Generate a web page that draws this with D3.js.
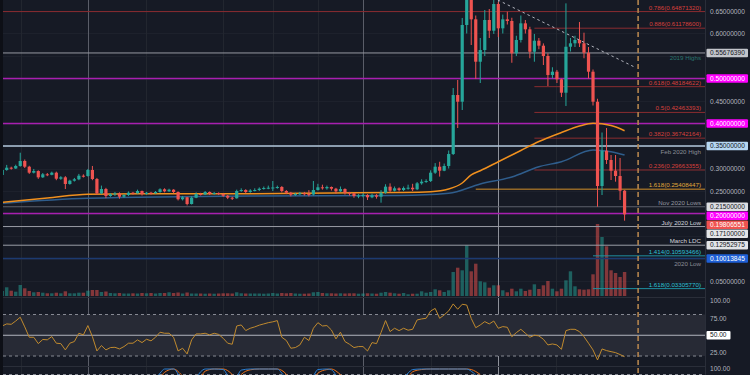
<!DOCTYPE html>
<html><head><meta charset="utf-8">
<script src="https://cdn.jsdelivr.net/npm/d3@7"></script>
<style>html,body{margin:0;padding:0;background:#161a25;overflow:hidden}svg{display:block}</style>
</head><body><svg id="c" width="750" height="375"></svg>
<script>
// ---------------- DATA ----------------
const open0 = 0.2856;
const closes = [
0.2967,0.3018,0.3000,0.3056,0.3167,0.3040,0.2907,0.2944,0.2804,0.2871,
0.2860,0.2907,0.2773,0.2804,0.2656,0.2729,0.2760,0.2840,0.2833,0.2967,
0.2767,0.2449,0.2544,0.2389,0.2427,0.2449,0.2373,0.2411,0.2462,0.2449,
0.2500,0.2433,0.2462,0.2449,0.2478,0.2538,0.2493,0.2529,0.2478,0.2316,
0.2360,0.2211,0.2351,0.2433,0.2422,0.2478,0.2433,0.2456,0.2433,0.2395,
0.2351,0.2338,0.2500,0.2522,0.2478,0.2511,0.2522,0.2551,0.2567,0.2573,
0.2578,0.2589,0.2500,0.2462,0.2418,0.2433,0.2449,0.2433,0.2422,0.2522,
0.2582,0.2560,0.2589,0.2551,0.2493,0.2544,0.2462,0.2449,0.2389,0.2400,
0.2411,0.2360,0.2404,0.2373,0.2462,0.2596,0.2507,0.2560,0.2522,0.2567,
0.2573,0.2538,0.2671,0.2707,0.2722,0.2907,0.3040,0.2951,0.3056,0.3322,
0.4633,0.4484,0.6189,0.6922,0.6315,0.5373,0.5633,0.6300,0.6062,0.6655,
0.6115,0.6315,0.6278,0.5560,0.5856,0.6226,0.6093,0.5595,0.5840,0.5729,
0.5500,0.5078,0.5151,0.4982,0.4684,0.5706,0.5782,0.5856,0.5782,0.5573,
0.5151,0.4484,0.2611,0.3395,0.3189,0.2951,0.2833,0.2507,0.19806551];
const highs = [
0.2990,0.3080,0.3040,0.3085,0.3351,0.3200,0.3060,0.2990,0.2960,0.2900,
0.2900,0.2930,0.2930,0.2830,0.2830,0.2750,0.2790,0.2880,0.2870,0.2990,
0.3056,0.2790,0.2620,0.2570,0.2450,0.2480,0.2470,0.2430,0.2490,0.2480,
0.2530,0.2510,0.2480,0.2480,0.2500,0.2560,0.2560,0.2550,0.2540,0.2490,
0.2390,0.2370,0.2380,0.2470,0.2460,0.2500,0.2490,0.2480,0.2470,0.2450,
0.2410,0.2370,0.2530,0.2560,0.2540,0.2540,0.2560,0.2580,0.2600,0.2620,
0.2722,0.2620,0.2610,0.2520,0.2480,0.2460,0.2480,0.2480,0.2520,0.2722,
0.2660,0.2640,0.2620,0.2600,0.2570,0.2600,0.2560,0.2480,0.2460,0.2430,
0.2450,0.2430,0.2440,0.2430,0.2520,0.2650,0.2670,0.2600,0.2580,0.2600,
0.2640,0.2660,0.2700,0.2760,0.2760,0.2960,0.3120,0.3150,0.3110,0.3400,
0.4788,0.4967,0.6345,0.7800,0.7000,0.6400,0.5900,0.6522,0.6544,0.6790,
0.6700,0.6420,0.6484,0.6350,0.5950,0.6400,0.6300,0.6150,0.5990,0.5900,
0.5780,0.5560,0.5250,0.5190,0.5000,0.6670,0.5900,0.5950,0.6256,0.6018,
0.5700,0.5200,0.4550,0.3800,0.3900,0.3300,0.3300,0.3233,0.2520];
const lows = [
0.2830,0.2950,0.2975,0.2990,0.3040,0.3010,0.2880,0.2890,0.2770,0.2790,
0.2830,0.2850,0.2740,0.2750,0.2544,0.2640,0.2710,0.2740,0.2800,0.2820,
0.2740,0.2420,0.2430,0.2340,0.2370,0.2390,0.2330,0.2350,0.2390,0.2420,
0.2440,0.2400,0.2420,0.2420,0.2440,0.2460,0.2470,0.2480,0.2450,0.2290,
0.2290,0.2180,0.2200,0.2340,0.2400,0.2410,0.2410,0.2420,0.2410,0.2370,
0.2320,0.2300,0.2330,0.2480,0.2450,0.2460,0.2490,0.2500,0.2530,0.2540,
0.2500,0.2550,0.2470,0.2430,0.2380,0.2390,0.2410,0.2400,0.2380,0.2400,
0.2510,0.2530,0.2530,0.2510,0.2440,0.2480,0.2420,0.2400,0.2350,0.2340,
0.2360,0.2300,0.2340,0.2330,0.2240,0.2440,0.2470,0.2490,0.2490,0.2500,
0.2530,0.2500,0.2520,0.2640,0.2680,0.2700,0.2880,0.2820,0.2940,0.3000,
0.3300,0.3900,0.4300,0.6000,0.5744,0.4989,0.4900,0.5500,0.5900,0.5990,
0.5922,0.6000,0.6200,0.5350,0.5500,0.5800,0.6000,0.5450,0.5373,0.5650,
0.5300,0.4833,0.5000,0.4900,0.4589,0.4389,0.5600,0.5700,0.5700,0.5450,
0.5000,0.4400,0.2151,0.2411,0.3100,0.2744,0.2707,0.2300,0.1840];
const volumes = [
50,87,53,43,110,77,50,37,40,33, 27,27,33,27,47,27,27,33,33,53,
60,60,40,45,30,27,30,25,25,27, 25,30,27,30,25,30,30,37,30,35,
25,35,25,25,25,23,25,23,25,27, 27,25,37,27,25,25,25,25,23,25,
30,25,30,27,30,25,23,23,25,37, 40,30,27,27,25,27,25,27,27,23,
25,27,25,23,33,40,33,27,23,30, 17,23,23,47,33,40,67,57,40,57,
240,283,257,507,247,323,147,137,83,107, 107,57,37,73,47,73,50,63,117,70,
107,150,73,47,73,157,247,97,67,63, 67,217,720,590,497,257,230,190,240];
const rsi = [
63.4,66.4,65.8,70.6,76.1,62.1,47.1,47.1,37.9,43.9,
43.4,48.1,38.5,37.9,28.8,38.5,40.9,52.9,50.5,64.0,
48.1,27.3,35.1,28.8,32.2,32.6,30.2,33.6,38.5,38.5,
43.3,39.4,44.2,41.9,47.1,54.4,52.9,52.9,47.1,27.3,
31.2,23.0,43.3,51.9,51.9,52.9,50.5,52.9,51.2,45.6,
38.5,37.0,63.4,64.9,56.8,60.1,62.1,64.6,66.4,68.2,
69.4,71.2,47.1,42.4,31.2,32.2,36.0,47.1,42.4,60.1,
68.2,63.4,64.0,57.6,44.7,54.4,40.9,37.0,32.2,33.6,
33.6,27.3,39.4,37.9,53.9,71.2,55.3,60.1,56.7,60.1,
57.3,58.6,72.1,73.6,74.5,85.1,88.8,74.5,79.4,85.2,
95.3,87.6,94.8,93.7,74.3,60.9,64.9,69.7,66.4,70.6,
60.1,62.5,61.5,47.9,53.8,58.6,52.9,47.1,50.0,49.0,
44.2,36.0,37.4,36.0,29.7,56.7,58.6,58.6,55.2,47.9,
38.5,28.8,14.3,30.2,27.8,26.3,24.9,22.1,19.0];
// moving averages, read at points along the curves
const maFastIdx = [0,10,19,33,55,73,88,95,99,102,104,106,110,115,119,124,128,131,135,138];
const maFastVal = [0.2249,0.2344,0.2427,0.2440,0.2440,0.2456,0.2467,0.2484,0.2544,0.2678,0.2856,0.2951,0.3150,0.3400,0.3600,0.3800,0.3944,0.4004,0.3955,0.3840];
const maSlowIdx = [0,19,55,88,99,106,113,119,124,131,135,138];
const maSlowVal = [0.2226,0.2337,0.2389,0.2400,0.2449,0.2656,0.2811,0.3040,0.3151,0.3411,0.3373,0.3300];
// stochastic (bottom pane, mostly cut off)
const stochIdx = [30,33,35,36,38,40,42,44,45,47,49,51,52,53,55,57,59,61,62,64,67,69,70,72,73,75,78,85,88,90,91,93,95,97,99,101,103,104,106];
const stochK = [20,45,85,100,100,55,40,90,100,100,98,50,70,96,100,100,100,100,85,40,30,75,98,100,97,50,20,30,55,85,98,100,100,100,100,100,100,92,60];
const stochD = [30,35,65,88,100,75,45,70,92,100,100,80,60,80,97,100,100,100,95,65,35,55,85,98,100,80,35,25,45,70,90,98,100,100,100,100,100,98,80];
// horizontal levels
const levelPrices = [0.64871320,0.61178600,0.55676390,0.5,0.48184622,0.42463393,0.4,0.36742164,0.35,0.29663355,0.25408447,0.215,0.2,0.171,0.12952975,0.10593466,0.10013845,0.03305770];
const levelTexts = ["0.786(0.64871320)","0.886(0.61178600)","2019 Highs","","0.618(0.48184622)","0.5(0.42463393)","","0.382(0.36742164)","Feb 2020 High","0.236(0.29663355)","1.618(0.25408447)","Nov 2020 Lows","","July 2020 Low","March LDC","1.414(0.10593466)","2020 Low","1.618(0.03305770)"];
const levelStart = [0,118,0,0,118,118,0,118,0,118,105,0,0,0,0,131,0,131];
const levelKinds = ["fib","fib","gray","magenta","fib","fib","magenta","fib","lightblue","fib","orange","gray2","magenta","light","light","cyan","blue","cyan"];
const lastPrice = 0.19806551;
const priceTicks = [0.65,0.60,0.45,0.30,0.25,0.05];
const rsiTicks = [100,75,25];
const trendIdx = [109.9,140.5];
const trendVal = [0.6744,0.5240];
const gridIdx = [4.2,31.9,49,60,70,95,122.8];
const markIdx = [19,80,110];
const nowIdx = 141;

// ---------------- STYLES ----------------
const kindStyle = {
  fib:{line:"#8a2c30",w:1,text:"#d8403c",pos:"above",box:null},
  gray:{line:"#9598a1",w:1,text:"#2a766f",pos:"below",box:["#c3c5cb","#131722"]},
  magenta:{line:"#a81fb0",w:1.6,text:"#fff",pos:"above",box:["#ff00ff","#ffffff"]},
  lightblue:{line:"#b3c8dd",w:1.6,text:"#8a8d96",pos:"below",box:["#b6d6f2","#131722"]},
  orange:{line:"#d4902a",w:1,text:"#e0a93a",pos:"above",box:null},
  gray2:{line:"#5d606b",w:1,text:"#9598a1",pos:"above",box:["#dcdde2","#131722"]},
  light:{line:"#9a9da6",w:1,text:"#d1d4dc",pos:"above",box:["#e3e4e8","#131722"]},
  cyan:{line:"#1f8fa0",w:1,text:"#2cc0d6",pos:"above",box:null},
  blue:{line:"#1c3a70",w:1.4,text:"#8a8d96",pos:"below",box:["#1e5fd6","#ffffff"]}
};
const UP="#26a69a", DN="#ef5350";
const FONT="'Liberation Sans', Arial, sans-serif";

// ---------------- SCALES ----------------
const svg = d3.select("#c");
const PR = 705;
const x = d3.scaleLinear().domain([0,157]).range([2.2, 2.2+4.51*157]);
const y = d3.scaleLinear().domain([0.05,0.65]).range([281,11]);
const yV = d3.scaleLinear().domain([0,1000]).range([296,196]);
const yR = d3.scaleLinear().domain([20,80]).range([356,314.5]);
const yS = d3.scaleLinear().domain([80,100]).range([374.5,369]);

const data = closes.map((c,i)=>({i,o:i?closes[i-1]:open0,c,h:highs[i],l:lows[i],v:volumes[i],r:rsi[i]}));

svg.append("rect").attr("width",750).attr("height",375).attr("fill","#161a25");
const defs = svg.append("defs");
defs.append("clipPath").attr("id","cm").append("rect").attr("x",3).attr("y",0).attr("width",PR-3).attr("height",297);
defs.append("clipPath").attr("id","cr").append("rect").attr("x",3).attr("y",298).attr("width",PR-3).attr("height",68);
defs.append("clipPath").attr("id","cs").append("rect").attr("x",3).attr("y",367).attr("width",PR-3).attr("height",8);

// grid
const grid = svg.append("g");
grid.selectAll("line.h").data(d3.range(0.05,0.66,0.05)).join("line")
  .attr("x1",3).attr("x2",PR).attr("y1",d=>Math.round(y(d))+0.5).attr("y2",d=>Math.round(y(d))+0.5)
  .attr("stroke","#1d212c");
grid.selectAll("line.v").data(gridIdx).join("line")
  .attr("x1",d=>Math.round(x(d))+0.5).attr("x2",d=>Math.round(x(d))+0.5).attr("y1",0).attr("y2",375)
  .attr("stroke","#22262f");
// RSI pane band
svg.append("rect").attr("x",3).attr("width",PR-3).attr("y",yR(80)).attr("height",yR(20)-yR(80)).attr("fill","#272a35");
// marker verticals
grid.selectAll("line.m").data(markIdx).join("line")
  .attr("x1",d=>Math.round(x(d))+0.5).attr("x2",d=>Math.round(x(d))+0.5).attr("y1",0).attr("y2",375)
  .attr("stroke",(d,i)=>i==2?"#8e919a":"#5a5d68").attr("stroke-width",1);

// volume
const gm = svg.append("g").attr("clip-path","url(#cm)");
gm.selectAll("rect.v").data(data).join("rect")
  .attr("x",d=>x(d.i)-1.7).attr("width",3.4)
  .attr("y",d=>yV(d.v)).attr("height",d=>yV(0)-yV(d.v))
  .attr("fill",d=>d.c>=d.o?UP:DN).attr("opacity",0.5);

// level lines
levelPrices.forEach((p,k)=>{
  const st = kindStyle[levelKinds[k]];
  const yy = y(p);
  gm.append("line").attr("x1",x(levelStart[k])).attr("x2",PR).attr("y1",yy).attr("y2",yy)
    .attr("stroke",st.line).attr("stroke-width",st.w);
});

// moving averages
const lineGen = d3.line().curve(d3.curveMonotoneX);
gm.append("path").attr("d",lineGen(maSlowIdx.map((d,k)=>[x(d),y(maSlowVal[k])])))
  .attr("fill","none").attr("stroke","#2f5d8c").attr("stroke-width",1.5);
gm.append("path").attr("d",lineGen(maFastIdx.map((d,k)=>[x(d),y(maFastVal[k])])))
  .attr("fill","none").attr("stroke","#f0901e").attr("stroke-width",1.5);

// candles
gm.selectAll("line.w").data(data).join("line")
  .attr("x1",d=>x(d.i)).attr("x2",d=>x(d.i)).attr("y1",d=>y(d.h)).attr("y2",d=>y(d.l))
  .attr("stroke",d=>d.c>=d.o?UP:DN).attr("stroke-width",1);
gm.selectAll("rect.b").data(data).join("rect")
  .attr("x",d=>x(d.i)-1.6).attr("width",3.2)
  .attr("y",d=>y(Math.max(d.o,d.c))).attr("height",d=>Math.max(1,Math.abs(y(d.o)-y(d.c))))
  .attr("fill",d=>d.c>=d.o?UP:DN);

// trend line
gm.append("line").attr("x1",x(trendIdx[0])).attr("y1",y(trendVal[0])).attr("x2",x(trendIdx[1])).attr("y2",y(trendVal[1]))
  .attr("stroke","#b2b5be").attr("stroke-width",1).attr("stroke-dasharray","2.5,3");

// level texts
levelPrices.forEach((p,k)=>{
  if(!levelTexts[k]) return;
  const st = kindStyle[levelKinds[k]];
  const yy = y(p);
  svg.append("text").attr("x",701).attr("y",st.pos==="above"?yy-2:yy+7.5)
    .attr("text-anchor","end").attr("font-family",FONT).attr("font-size",6.2)
    .attr("fill",st.text).text(levelTexts[k]);
});

// RSI pane
const gr = svg.append("g").attr("clip-path","url(#cr)");
[80,20].forEach(v=>gr.append("line").attr("x1",3).attr("x2",PR).attr("y1",yR(v)).attr("y2",yR(v))
  .attr("stroke","#868993").attr("stroke-dasharray","3,3"));
gr.append("line").attr("x1",3).attr("x2",PR).attr("y1",yR(50)).attr("y2",yR(50)).attr("stroke","#b2b5be").attr("stroke-width",1);
gr.append("path").attr("d",d3.line().x(d=>x(d.i)).y(d=>yR(d.r))(data))
  .attr("fill","none").attr("stroke","#c08a2e").attr("stroke-width",1);

// stoch pane
const gs = svg.append("g").attr("clip-path","url(#cs)");
gs.append("line").attr("x1",3).attr("x2",PR).attr("y1",yS(80)).attr("y2",yS(80)).attr("stroke","#868993").attr("stroke-dasharray","3,3");
gs.append("path").attr("d",d3.line().curve(d3.curveMonotoneX)(stochIdx.map((d,k)=>[x(d),yS(stochD[k])])))
  .attr("fill","none").attr("stroke","#e8701a").attr("stroke-width",1);
gs.append("path").attr("d",d3.line().curve(d3.curveMonotoneX)(stochIdx.map((d,k)=>[x(d),yS(stochK[k])])))
  .attr("fill","none").attr("stroke","#2a7fd4").attr("stroke-width",1);

// pane separators
[297.5,366.5].forEach(v=>svg.append("line").attr("x1",0).attr("x2",750).attr("y1",v).attr("y2",v).attr("stroke","#2a2e39"));
svg.append("rect").attr("x",0).attr("y",0).attr("width",3).attr("height",375).attr("fill","#0d0f16");

// now line
svg.append("line").attr("x1",x(nowIdx)).attr("x2",x(nowIdx)).attr("y1",0).attr("y2",375)
  .attr("stroke","#b3844e").attr("stroke-width",1.6).attr("stroke-dasharray","5,3");

// right axis
svg.append("rect").attr("x",PR).attr("y",0).attr("width",750-PR).attr("height",375).attr("fill","#161a25");
svg.append("line").attr("x1",PR+0.5).attr("x2",PR+0.5).attr("y1",0).attr("y2",375).attr("stroke","#2a2e39");
const ax = svg.append("g").attr("transform",`translate(${PR+5},0)`)
  .call(d3.axisRight(y).tickValues(priceTicks).tickSize(0).tickPadding(0).tickFormat(d3.format(".8f")));
ax.select(".domain").remove();
ax.selectAll("text").attr("font-family",FONT).attr("font-size",6.6).attr("fill","#b2b5be").attr("dy","0.34em");
const axR = svg.append("g").attr("transform",`translate(${PR+5},0)`)
  .call(d3.axisRight(yR).tickValues(rsiTicks).tickSize(0).tickPadding(0).tickFormat(d3.format(".2f")));
axR.select(".domain").remove();
axR.selectAll("text").attr("font-family",FONT).attr("font-size",6.6).attr("fill","#b2b5be").attr("dy","0.34em");
svg.append("text").attr("x",PR+5).attr("y",yS(100)).attr("dy","0.34em").attr("font-family",FONT).attr("font-size",6.6).attr("fill","#b2b5be").text("100.00");

// axis boxes (with simple collision push-down)
const boxes = [];
levelPrices.forEach((p,k)=>{ const st=kindStyle[levelKinds[k]]; if(st.box) boxes.push({p,bg:st.box[0],fg:st.box[1]}); });
boxes.push({p:lastPrice,bg:DN,fg:"#ffffff"});
boxes.sort((a,b)=>b.p-a.p);
let prev=-100;
boxes.forEach(b=>{ let yy=y(b.p); if(yy<prev+9) yy=prev+9; b.y=yy; prev=yy; });
boxes.forEach(b=>{
  svg.append("rect").attr("x",PR+1.5).attr("y",b.y-4.3).attr("width",41.5).attr("height",8.6).attr("fill",b.bg).attr("rx",1);
  svg.append("text").attr("x",PR+5).attr("y",b.y).attr("dy","0.34em").attr("font-family",FONT).attr("font-size",6.6)
    .attr("fill",b.fg).text(d3.format(".8f")(b.p));
});
// RSI 50 box
svg.append("rect").attr("x",PR+1.5).attr("y",yR(50)-4.3).attr("width",24).attr("height",8.6).attr("fill","#ffffff").attr("rx",1);
svg.append("text").attr("x",PR+5).attr("y",yR(50)).attr("dy","0.34em").attr("font-family",FONT).attr("font-size",6.6).attr("fill","#131722").text("50.00");
</script></body></html>
